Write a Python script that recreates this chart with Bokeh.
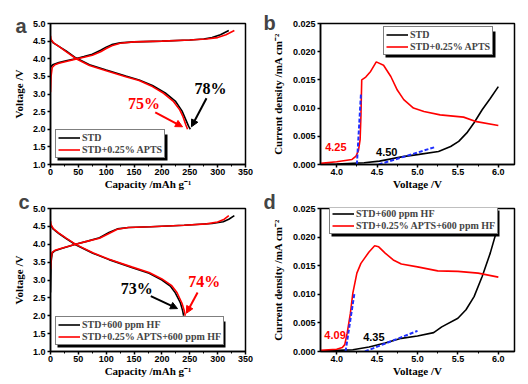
from bokeh.plotting import figure
from bokeh.models import (Legend, LegendItem, Label, Arrow, NormalHead, FixedTicker,
                          NumeralTickFormatter, Range1d, BoxAnnotation)
from bokeh.layouts import column, row
from bokeh.embed import file_html
from bokeh.resources import INLINE

# ---------------- data ----------------
# panel a : charge / discharge (capacity mAh/g, voltage V)
a_chg_std_cap = [0, 2, 5, 15, 30, 45, 60, 75, 90, 100, 110, 125, 150, 200, 250, 275, 290, 305, 320]
a_chg_std_v = [3.75, 3.8, 3.84, 3.89, 3.95, 4.0, 4.06, 4.13, 4.24, 4.33, 4.4, 4.45, 4.48, 4.5, 4.53, 4.56, 4.6, 4.68, 4.8]
a_chg_apts_cap = [0, 1, 3, 8, 15, 30, 45, 60, 75, 90, 100, 110, 125, 150, 200, 250, 280, 300, 315, 330]
a_chg_apts_v = [3.05, 3.5, 3.75, 3.83, 3.87, 3.93, 3.99, 4.04, 4.1, 4.2, 4.29, 4.37, 4.44, 4.48, 4.5, 4.53, 4.56, 4.6, 4.68, 4.8]
a_dis_std_cap = [0, 5, 15, 28, 46, 70, 100, 135, 159, 183, 206, 224, 236, 242, 248, 251]
a_dis_std_v = [4.55, 4.45, 4.35, 4.22, 4.02, 3.83, 3.68, 3.51, 3.40, 3.24, 3.03, 2.80, 2.52, 2.3, 2.08, 2.0]
a_dis_apts_cap = [0, 1, 5, 15, 28, 46, 70, 100, 135, 159, 183, 203, 220, 232, 238, 243, 246]
a_dis_apts_v = [4.65, 4.55, 4.46, 4.35, 4.2, 4.0, 3.81, 3.66, 3.49, 3.38, 3.21, 3.02, 2.8, 2.55, 2.35, 2.12, 2.0]

# panel c : with 600 ppm HF
c_chg_std_cap = [0, 1, 3, 8, 20, 45, 65, 88, 105, 120, 140, 180, 240, 290, 310, 320, 330]
c_chg_std_v = [2.65, 3.5, 3.75, 3.82, 3.88, 4.0, 4.08, 4.18, 4.33, 4.43, 4.47, 4.49, 4.53, 4.58, 4.63, 4.7, 4.8]
c_chg_apts_cap = [0, 1, 3, 8, 20, 45, 65, 88, 105, 120, 140, 180, 240, 280, 300, 312, 320]
c_chg_apts_v = [3.3, 3.6, 3.77, 3.83, 3.89, 4.0, 4.08, 4.17, 4.3, 4.42, 4.47, 4.49, 4.53, 4.57, 4.62, 4.7, 4.8]
c_dis_std_cap = [0, 5, 15, 28, 46, 76, 105, 147, 177, 200, 215, 224, 233, 237, 239]
c_dis_std_v = [4.55, 4.42, 4.3, 4.16, 3.98, 3.75, 3.57, 3.34, 3.19, 3.0, 2.83, 2.64, 2.37, 2.15, 2.0]
c_dis_apts_cap = [0, 1, 5, 15, 28, 46, 76, 105, 147, 177, 200, 217, 227, 236, 240, 242]
c_dis_apts_v = [4.65, 4.55, 4.44, 4.31, 4.17, 3.99, 3.76, 3.58, 3.36, 3.21, 3.03, 2.85, 2.65, 2.35, 2.15, 2.0]

# panel b : LSV (voltage V, current density mA/cm2)
b_std_v = [3.8, 4.0, 4.34, 4.53, 4.82, 5.02, 5.26, 5.41, 5.51, 5.61, 5.70, 5.80, 5.90, 6.0]
b_std_i = [0.0, 0.0001, 0.0003, 0.0006, 0.0014, 0.0018, 0.0023, 0.0032, 0.0041, 0.0056, 0.0074, 0.0097, 0.0117, 0.0138]
b_apts_v = [3.8, 4.0, 4.19, 4.24, 4.27, 4.29, 4.30, 4.31, 4.36, 4.42, 4.49, 4.58, 4.67, 4.75, 4.83, 4.95, 5.08, 5.28, 5.57, 5.73, 6.0]
b_apts_i = [0.0002, 0.0005, 0.0009, 0.0015, 0.0025, 0.0044, 0.0085, 0.0150, 0.0155, 0.0165, 0.0182, 0.0176, 0.0156, 0.0132, 0.0115, 0.0100, 0.0094, 0.0088, 0.0084, 0.0076, 0.0069]
b_tan_apts_v = [4.25, 4.30]
b_tan_apts_i = [0.0, 0.0124]
b_tan_std_v = [4.52, 5.22]
b_tan_std_i = [0.0, 0.0031]

# panel d : LSV with 600 ppm HF
d_std_v = [3.8, 4.0, 4.2, 4.4, 4.6, 4.8, 5.0, 5.2, 5.3, 5.5, 5.6, 5.7, 5.8, 5.9, 6.0]
d_std_i = [0.0001, 0.0002, 0.0003, 0.0008, 0.0015, 0.0023, 0.0027, 0.0033, 0.0043, 0.0058, 0.0073, 0.0096, 0.0131, 0.0172, 0.0221]
d_apts_v = [3.8, 4.0, 4.07, 4.1, 4.13, 4.17, 4.2, 4.25, 4.3, 4.4, 4.47, 4.52, 4.6, 4.7, 4.8, 5.0, 5.25, 5.5, 5.75, 6.0]
d_apts_i = [0.0002, 0.0004, 0.0007, 0.0012, 0.0032, 0.0067, 0.0102, 0.0137, 0.0154, 0.0174, 0.0185, 0.0183, 0.0172, 0.016, 0.0153, 0.0148, 0.0141, 0.014, 0.0137, 0.013]
d_tan_apts_v = [4.11, 4.22]
d_tan_apts_i = [0.0, 0.0102]
d_tan_std_v = [4.35, 5.0]
d_tan_std_i = [0.0, 0.0036]

# ticks
cap_ticks = [0, 50, 100, 150, 200, 250, 300, 350]
cap_minor = [25, 75, 125, 175, 225, 275, 325]
volt_ticks = [1.0, 1.5, 2.0, 2.5, 3.0, 3.5, 4.0, 4.5, 5.0]
lsv_ticks = [4.0, 4.5, 5.0, 5.5, 6.0]
lsv_minor = [4.25, 4.75, 5.25, 5.75]
cur_ticks = [0.0, 0.005, 0.010, 0.015, 0.020, 0.025]

# annotations: (text, x, y, colour)
a_texts = [("78%", 287, 3.15, "black"), ("75%", 168, 2.72, "red")]
a_arrows = [(280, 2.88, 253, 2.07, "black"), (188, 2.48, 237, 2.07, "red")]
c_texts = [("73%", 155, 2.75, "black"), ("74%", 276, 2.95, "red")]
c_arrows = [(180, 2.55, 228, 2.2, "black"), (264, 2.65, 244, 2.07, "red")]
b_texts = [("4.25", 3.99, 0.0031, "red"), ("4.50", 4.62, 0.0022, "black")]
d_texts = [("4.09", 3.98, 0.0028, "red"), ("4.35", 4.46, 0.0025, "black")]

SANS = "Liberation Sans"
SERIF = "Liberation Serif"
BLACK = "#000000"
RED = "#ff0000"
BLUE = "#1f2fff"


def make_fig(letter, xr, yr, bl, br, bt, bb, xticks, xminor, yticks, xfmt, yfmt,
             xlabel, ylabel, ylab_stand):
    kw = {}
    if letter is not None:
        kw["title"] = letter
    p = figure(width=264, height=192, x_range=Range1d(*xr), y_range=Range1d(*yr),
               output_backend="svg", toolbar_location=None,
               min_border_left=bl, min_border_right=br, min_border_top=bt, min_border_bottom=bb, **kw)
    p.xgrid.visible = False
    p.ygrid.visible = False
    p.outline_line_color = "black"
    p.outline_line_width = 1.5
    p.outline_line_alpha = 1.0
    p.background_fill_color = "white"
    p.border_fill_color = "white"
    p.xaxis.ticker = FixedTicker(ticks=xticks, minor_ticks=xminor)
    p.yaxis.ticker = FixedTicker(ticks=yticks, minor_ticks=[])
    p.xaxis.formatter = NumeralTickFormatter(format=xfmt)
    p.yaxis.formatter = NumeralTickFormatter(format=yfmt)
    p.xaxis.axis_label = xlabel
    p.yaxis.axis_label = ylabel
    for ax in (p.xaxis, p.yaxis):
        ax.axis_line_width = 1.5
        ax.major_tick_out = 3
        ax.major_tick_in = 0
        ax.minor_tick_out = 2
        ax.minor_tick_in = 0
        ax.major_tick_line_width = 1.5
        ax.minor_tick_line_width = 1
        ax.major_label_text_font = SANS
        ax.major_label_text_font_style = "bold"
        ax.major_label_text_font_size = "9px"
        ax.major_label_text_color = "black"
        ax.major_label_standoff = 2
        ax.axis_label_text_font = SERIF
        ax.axis_label_text_font_style = "bold"
        ax.axis_label_text_font_size = "11px"
        ax.axis_label_text_color = "black"
    p.xaxis.major_label_standoff = 1
    p.xaxis.axis_label_standoff = 0
    p.yaxis.axis_label_standoff = ylab_stand
    p.title.text_font = SANS
    p.title.text_font_size = "20px"
    p.title.text_font_style = "bold"
    p.title.align = "left"
    p.title.standoff = -8
    return p


def add_side_letter(p, letter, x, y):
    p.add_layout(Label(x=x, y=y, x_units="screen", y_units="screen", text=letter,
                       text_font=SANS, text_font_style="bold", text_font_size="20px",
                       text_align="left", text_baseline="alphabetic"), "above")


def add_legend(p, items, loc, size):
    x, y = loc
    w, h = size
    p.add_layout(BoxAnnotation(left=x + 2, right=x + w + 2, bottom=y - 2, top=y + h - 2,
                               left_units="screen", right_units="screen",
                               bottom_units="screen", top_units="screen",
                               fill_color="black", fill_alpha=1.0, line_color=None))
    leg = Legend(items=items, location=loc, margin=0, padding=2, spacing=1,
                 glyph_width=22, glyph_height=11, label_height=11, label_standoff=2,
                 label_text_font=SERIF, label_text_font_style="bold", label_text_font_size="10px",
                 border_line_color="black", border_line_width=1, background_fill_alpha=1.0)
    p.add_layout(leg)


def add_texts(p, texts, font, size):
    for t, x, y, col in texts:
        p.add_layout(Label(x=x, y=y, text=t, text_font=font, text_font_style="bold",
                           text_font_size=size, text_color=RED if col == "red" else BLACK,
                           text_align="center", text_baseline="middle"))


def add_arrows(p, arrows):
    for xs, ys, xe, ye, col in arrows:
        c = RED if col == "red" else BLACK
        p.add_layout(Arrow(end=NormalHead(size=7, fill_color=c, line_color=c),
                           x_start=xs, y_start=ys, x_end=xe, y_end=ye,
                           line_color=c, line_width=2))


# ---------------- panel a ----------------
pa = make_fig(None, (0, 350), (1.0, 5.0), 50, 19, 22, 28, cap_ticks, cap_minor, volt_ticks,
              "0", "0.0", "Capacity /mAh g\u207b\u00b9", "Voltage /V", 5)
ra1 = pa.line(a_chg_std_cap, a_chg_std_v, line_color=BLACK, line_width=1.6)
ra2 = pa.line(a_dis_std_cap, a_dis_std_v, line_color=BLACK, line_width=1.6)
ra3 = pa.line(a_chg_apts_cap, a_chg_apts_v, line_color=RED, line_width=1.6)
ra4 = pa.line(a_dis_apts_cap, a_dis_apts_v, line_color=RED, line_width=1.6)
add_legend(pa, [LegendItem(label="STD", renderers=[ra1]),
                LegendItem(label="STD+0.25% APTS", renderers=[ra3])], (5, 6), (110, 26))
add_texts(pa, a_texts, SERIF, "16px")
add_arrows(pa, a_arrows)
add_side_letter(pa, "a", -35, -2)

# ---------------- panel b ----------------
pb = make_fig(None, (3.8, 6.2), (0.0, 0.025), 56, 14, 23, 27, lsv_ticks, lsv_minor, cur_ticks,
              "0.0", "0.000", "Voltage /V", "Current density /mA cm\u207b\u00b2", 6)
rb1 = pb.line(b_std_v, b_std_i, line_color=BLACK, line_width=1.6)
rb2 = pb.line(b_apts_v, b_apts_i, line_color=RED, line_width=1.6)
pb.line(b_tan_apts_v, b_tan_apts_i, line_color=BLUE, line_width=2, line_dash="4 2")
pb.line(b_tan_std_v, b_tan_std_i, line_color=BLUE, line_width=2, line_dash="4 2")
add_legend(pb, [LegendItem(label="STD", renderers=[rb1]),
                LegendItem(label="STD+0.25% APTS", renderers=[rb2])], (63, 109), (110, 26))
add_texts(pb, b_texts, SANS, "11px")
add_side_letter(pb, "b", -57, 1)

# ---------------- panel c ----------------
pc = make_fig("c", (0, 350), (1.0, 5.0), 50, 19, 15, 33, cap_ticks, cap_minor, volt_ticks,
              "0", "0.0", "Capacity /mAh g\u207b\u00b9", "Voltage /V", 5)
pc.title.offset = -32
rc1 = pc.line(c_chg_std_cap, c_chg_std_v, line_color=BLACK, line_width=1.6)
rc2 = pc.line(c_dis_std_cap, c_dis_std_v, line_color=BLACK, line_width=1.6)
rc3 = pc.line(c_chg_apts_cap, c_chg_apts_v, line_color=RED, line_width=1.6)
rc4 = pc.line(c_dis_apts_cap, c_dis_apts_v, line_color=RED, line_width=1.6)
add_legend(pc, [LegendItem(label="STD+600 ppm HF", renderers=[rc1]),
                LegendItem(label="STD+0.25% APTS+600 ppm HF", renderers=[rc3])], (5, 6), (168, 26))
add_texts(pc, c_texts, SERIF, "16px")
add_arrows(pc, c_arrows)

# ---------------- panel d ----------------
pd_ = make_fig("d", (3.8, 6.2), (0.0, 0.025), 56, 14, 15, 33, lsv_ticks, lsv_minor, cur_ticks,
               "0.0", "0.000", "Voltage /V", "Current density /mA cm\u207b\u00b2", 6)
pd_.title.offset = -57
rd1 = pd_.line(d_std_v, d_std_i, line_color=BLACK, line_width=1.6)
rd2 = pd_.line(d_apts_v, d_apts_i, line_color=RED, line_width=1.6)
pd_.line(d_tan_apts_v, d_tan_apts_i, line_color=BLUE, line_width=2, line_dash="4 2")
pd_.line(d_tan_std_v, d_tan_std_i, line_color=BLUE, line_width=2, line_dash="4 2")
add_legend(pd_, [LegendItem(label="STD+600 ppm HF", renderers=[rd1]),
                 LegendItem(label="STD+0.25% APTS+600 ppm HF", renderers=[rd2])], (9, 117), (168, 26))
add_texts(pd_, d_texts, SANS, "11px")

layout = column(row(pa, pb, spacing=0), row(pc, pd_, spacing=0), spacing=0)
open("out.html", "w").write(file_html(layout, INLINE))
